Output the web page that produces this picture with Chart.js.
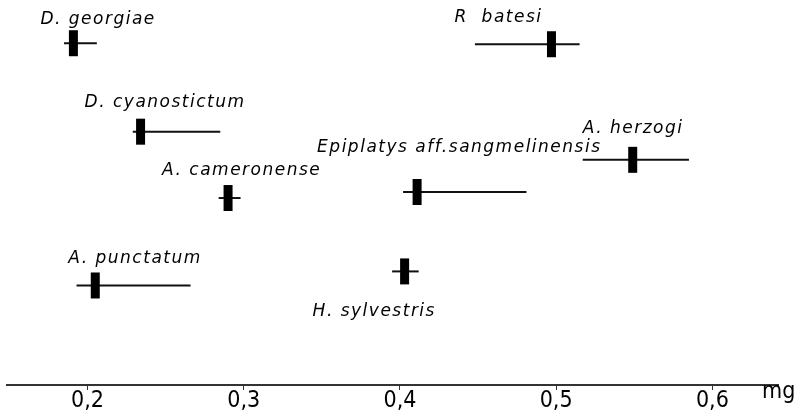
<!DOCTYPE html>
<html>
<head>
<meta charset="utf-8">
<script src="https://cdn.jsdelivr.net/npm/chart.js@4"></script>
<style>
  html, body { margin: 0; padding: 0; background: #fff; }
  #wrap { width: 800px; height: 417px; }
</style>
</head>
<body>
<div id="wrap"><canvas id="massChart" width="800" height="417"></canvas></div>
<script>
// Species, mean mass (thick bar) and range (thin line), in mg
const species = ['D. georgiae', 'D. cyanostictum', 'R  batesi', 'A. herzogi',
  'Epiplatys aff.sangmelinensis', 'A. cameronense', 'A. punctatum', 'H. sylvestris'];
const meanMg = [0.191, 0.234, 0.497, 0.549, 0.411, 0.290, 0.205, 0.403];
const minMg  = [0.185, 0.229, 0.448, 0.517, 0.402, 0.284, 0.193, 0.395];
const maxMg  = [0.206, 0.285, 0.515, 0.585, 0.481, 0.298, 0.266, 0.412];
// vertical row of each species (arbitrary units, 0 = axis)
const rowLevel = [34.0, 25.2, 33.9, 22.4, 19.2, 18.6, 9.9, 11.3];
const tickValues = [0.2, 0.3, 0.4, 0.5, 0.6];

// where each name sits relative to its bar (px)
const labelOffset = {
  'D. georgiae': [-33, -24],
  'D. cyanostictum': [-56, -29],
  'R  batesi': [-97, -27],
  'A. herzogi': [-50, -31],
  'Epiplatys aff.sangmelinensis': [-100, -44],
  'A. cameronense': [-66, -27],
  'A. punctatum': [-27, -27],
  'H. sylvestris': [-92, 40]
};

const rangeSets = species.map((name, i) => ({
  label: name,
  data: [{ x: minMg[i], y: rowLevel[i] }, { x: maxMg[i], y: rowLevel[i] }],
  showLine: true,
  borderColor: '#111',
  borderWidth: 2,
  pointRadius: 0,
  order: 2
}));

const meanSet = {
  label: 'mean',
  data: species.map((name, i) => ({ x: meanMg[i], y: rowLevel[i] })),
  pointStyle: 'line',
  rotation: 90,
  pointRadius: 13,
  borderWidth: 9,
  borderColor: '#000',
  backgroundColor: '#000',
  order: 1
};

const speciesNames = {
  id: 'speciesNames',
  afterDatasetsDraw(chart) {
    const ctx = chart.ctx;
    const xs = chart.scales.x, ys = chart.scales.y;
    ctx.save();
    ctx.fillStyle = '#000';
    ctx.font = 'italic 17px "DejaVu Sans"';
    ctx.textBaseline = 'middle';
    ctx.letterSpacing = '1.5px';
    species.forEach((name, i) => {
      const off = labelOffset[name];
      ctx.fillText(name, xs.getPixelForValue(meanMg[i]) + off[0], ys.getPixelForValue(rowLevel[i]) + off[1]);
    });
    ctx.letterSpacing = '0px';
    ctx.font = '23px "DejaVu Sans Condensed"';
    ctx.textBaseline = 'alphabetic';
    ctx.fillText('mg', 762, 398);
    ctx.restore();
  }
};

new Chart(document.getElementById('massChart'), {
  type: 'scatter',
  data: { datasets: [meanSet, ...rangeSets] },
  options: {
    responsive: false,
    animation: false,
    layout: { autoPadding: false, padding: { left: 7, right: 22, top: 0, bottom: 4 } },
    plugins: { legend: { display: false }, tooltip: { enabled: false } },
    scales: {
      x: {
        type: 'linear',
        min: 0.1485,
        max: 0.642,
        afterBuildTicks: (scale) => { scale.ticks = tickValues.map(v => ({ value: v })); },
        grid: { display: true, drawOnChartArea: false, tickLength: 5, tickColor: '#333', tickWidth: 1 },
        border: { display: true, color: '#333', width: 2 },
        ticks: {
          padding: 0,
          color: '#000',
          font: { family: '"DejaVu Sans Condensed"', size: 23, lineHeight: 1 },
          maxRotation: 0,
          callback: (v) => v.toFixed(1).replace('.', ',')
        }
      },
      y: { display: false, min: 0, max: 38.3 }
    }
  },
  plugins: [speciesNames]
});
</script>
</body>
</html>
